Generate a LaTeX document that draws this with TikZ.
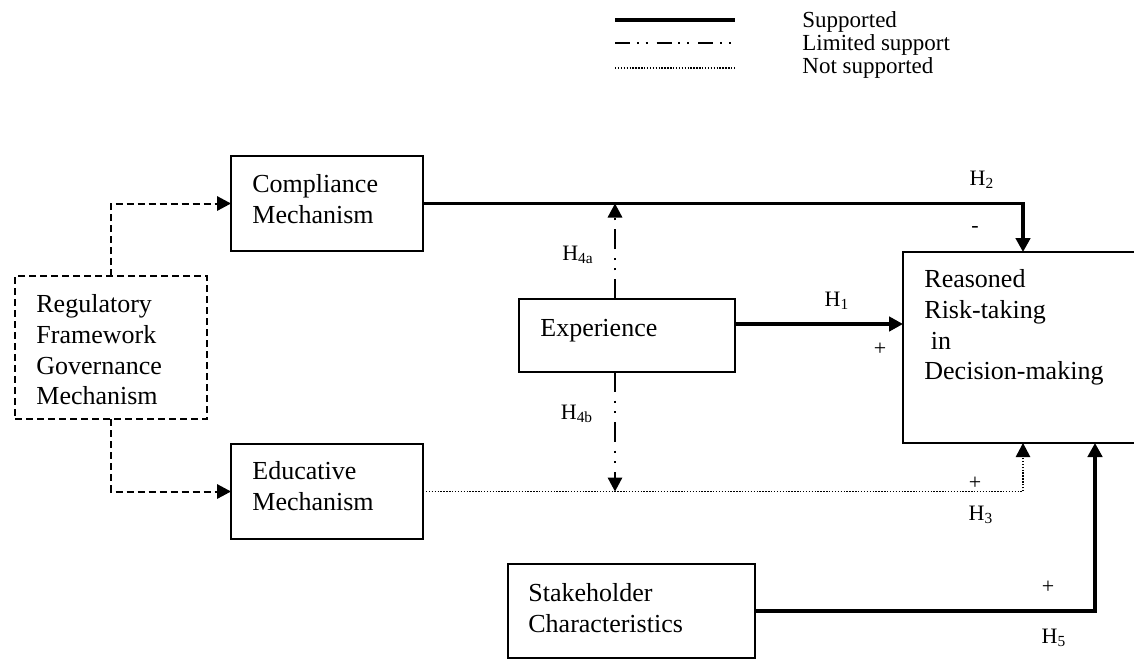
\documentclass[tikz,border=0pt]{standalone}
\usepackage{fontspec}
\setmainfont{Liberation Serif}
\usetikzlibrary{arrows.meta}
\tikzset{
  box/.style={draw, line width=0.9pt, rectangle, inner sep=0pt, outer sep=0pt, anchor=north west},
  framebox/.style={box, dash pattern=on 3.5pt off 2pt, line width=1pt},
  boxtext/.style={anchor=north west, inner sep=0pt, align=left, font=\fontsize{13}{15.4}\selectfont},
  hlabel/.style={font=\fontsize{11}{13}\selectfont, inner sep=0pt},
  legtext/.style={anchor=base west, inner sep=0pt, font=\fontsize{11.5}{13}\selectfont},
  tip/.style={-{Triangle[length=7pt,width=7.2pt]}},
  supported/.style={line width=1.7pt},
  limited/.style={line width=1pt, dash pattern=on 10pt off 4.3pt on 1pt off 4.2pt on 1pt off 4.5pt},
  limitedleg/.style={line width=1pt, dash pattern=on 7.5pt off 3.4pt on 1pt off 3.4pt on 1pt off 4.5pt},
  notsup/.style={line width=0.7pt, dash pattern=on 0.7pt off 0.75pt},
  framework/.style={line width=1pt, dash pattern=on 3.5pt off 2pt},
}
\begin{document}
\begin{tikzpicture}[x=0.5pt,y=-0.5pt]
\useasboundingbox (0,0) rectangle (1134,660);
\clip (0,0) rectangle (1134,660);
% legend
\coordinate (l1a) at (615,20);  \coordinate (l1b) at (735,20);
\coordinate (l2a) at (615,43);  \coordinate (l2b) at (735,43);
\coordinate (l3a) at (615,68);  \coordinate (l3b) at (735,68);
\draw[supported] (l1a) -- (l1b);
\draw[limitedleg] (l2a) -- (l2b);
\draw[notsup] (l3a) -- (l3b);
\node[legtext] (lt1) at (802,27) {Supported};
\node[legtext] (lt2) at (802,50) {Limited support};
\node[legtext] (lt3) at (802,73.5) {Not supported};
% boxes
\node[box, minimum width=96pt, minimum height=47.5pt] (comp) at (231,156) {};
\node[box, minimum width=96pt, minimum height=47.5pt] (educ) at (231,444) {};
\node[framebox, minimum width=96pt, minimum height=71.5pt] (reg) at (15,276) {};
\node[box, minimum width=108pt, minimum height=36.5pt] (exp) at (519,299) {};
\node[box, minimum width=123.5pt, minimum height=47pt] (stake) at (508,564) {};
\node[box, minimum width=120pt, minimum height=95.5pt] (reas) at (903,252) {};
% box texts
\node[boxtext] (compT) at (252,174) {Compliance\\Mechanism};
\node[boxtext] (educT) at (252,461) {Educative\\Mechanism};
\node[boxtext] (regT) at (36,294) {Regulatory\\Framework\\Governance\\Mechanism};
\node[boxtext] (expT) at (540,319) {Experience};
\node[boxtext] (stakeT) at (528,583) {Stakeholder\\Characteristics};
\node[boxtext] (reasT) at (924,269) {Reasoned\\Risk-taking\\\hspace*{0.25em}in\\Decision-making};
% connectors
\draw[framework,tip] (reg.north) |- (comp.west);
\draw[framework,tip] (reg.south) |- (educ.west);
\draw[supported,tip] (comp.east) -| (reas.north);
\coordinate (h1s) at ([yshift=5.75pt]exp.east);
\draw[supported,tip] (h1s) -- (h1s -| reas.west);
\coordinate (h4s) at ([xshift=-6pt]exp.north);
\draw[limited,tip] (h4s) -- (h4s |- comp.east);
\coordinate (h4t) at ([xshift=-6pt]exp.south);
\draw[limited,tip] (h4t) -- (h4t |- educ.east);
\draw[notsup,tip] (educ.east) -| (reas.south);
\coordinate (h5e) at ([xshift=36pt]reas.south);
\draw[supported,tip] (stake.east) -| (h5e);
% labels
\node[hlabel] (H2) at (982,180) {H\textsubscript{2}};
\node[hlabel] (m2) at (975,229) {-};
\node[hlabel] (H1) at (837,301) {H\textsubscript{1}};
\node[hlabel] (p1) at (880,349) {+};
\node[hlabel] (H4a) at (578,255) {H\textsubscript{4a}};
\node[hlabel] (H4b) at (577,414) {H\textsubscript{4b}};
\node[hlabel] (p3) at (975,483) {+};
\node[hlabel] (H3) at (981,515) {H\textsubscript{3}};
\node[hlabel] (p5) at (1048,587) {+};
\node[hlabel] (H5) at (1054,638) {H\textsubscript{5}};
\end{tikzpicture}
\end{document}
